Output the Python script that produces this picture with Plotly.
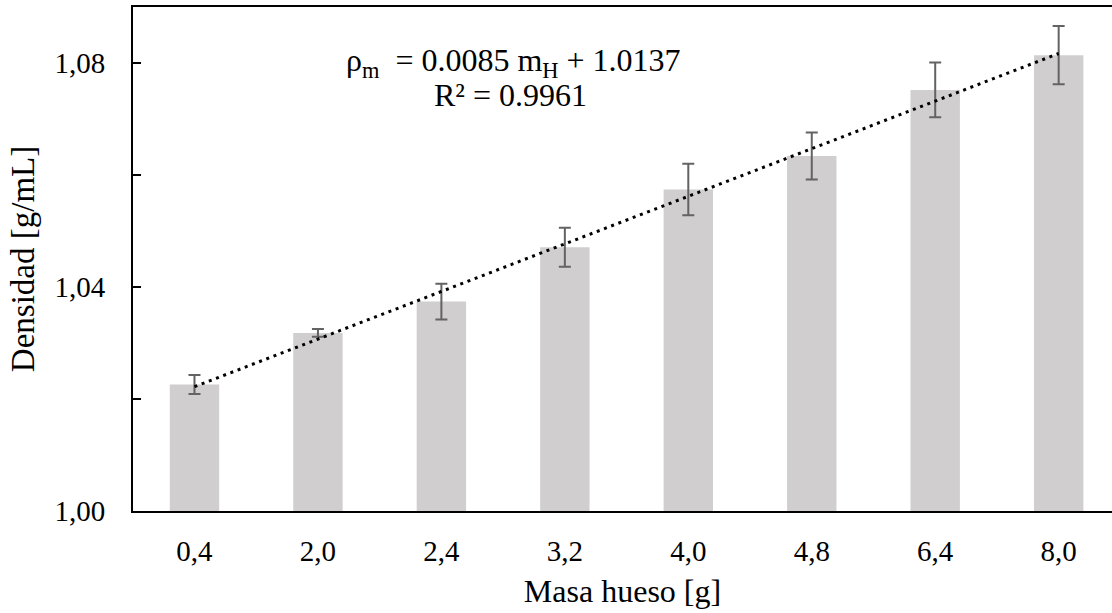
import plotly.graph_objects as go

# Bone mass categories and measured density
masa_labels = ["0,4", "2,0", "2,4", "3,2", "4,0", "4,8", "6,4", "8,0"]
densidad = [1.0226, 1.0318, 1.0374, 1.0471, 1.0574, 1.0634, 1.0752, 1.0814]
desviacion = [0.0017, 0.0007, 0.0032, 0.0035, 0.0046, 0.0042, 0.0049, 0.0052]

# Linear fit over the category index (1..n)
pendiente = 0.0085
intercepto = 1.0137
r2 = 0.9961

y_tickvals = [1.00, 1.04, 1.08]
y_ticktext = ["1,00", "1,04", "1,08"]

FONT = "'Liberation Serif', 'Times New Roman', serif"

idx = list(range(1, len(masa_labels) + 1))
tendencia = [pendiente * i + intercepto for i in idx]

fig = go.Figure()

fig.add_trace(go.Bar(
    x=idx,
    y=densidad,
    width=0.4,
    marker=dict(color="#D0CECE", line=dict(width=0)),
    error_y=dict(
        type="data",
        array=desviacion,
        symmetric=True,
        color="#636363",
        thickness=2,
        width=6,
    ),
    showlegend=False,
))

fig.add_trace(go.Scatter(
    x=[idx[0], idx[-1]],
    y=[tendencia[0], tendencia[-1]],
    mode="lines",
    line=dict(color="black", width=3, dash="3px,4.7px"),
    showlegend=False,
))

# Trend-line equation and R², one annotation per line
fig.add_annotation(
    x=3.58, y=1.0801, xref="x", yref="y",
    text=f"ρ<sub>m</sub>  = {pendiente:.4f} m<sub>H</sub> + {intercepto:.4f}",
    showarrow=False,
    font=dict(family=FONT, size=32, color="black"),
)
fig.add_annotation(
    x=3.56, y=1.0743, xref="x", yref="y",
    text=f"R² = {r2:.4f}",
    showarrow=False,
    font=dict(family=FONT, size=32, color="black"),
)

fig.update_layout(
    width=1112,
    height=613,
    margin=dict(l=133, r=0, t=7, b=102),
    plot_bgcolor="white",
    paper_bgcolor="white",
    font=dict(family=FONT, color="black"),
    bargap=0.6,
    xaxis=dict(
        range=[0.502, 8.432],
        tickvals=idx,
        ticktext=masa_labels,
        ticks="",
        showgrid=False,
        zeroline=False,
        showline=True,
        linecolor="black",
        linewidth=2,
        mirror=True,
        tickfont=dict(family=FONT, size=29, color="black"),
        ticklabelstandoff=13,
        title=dict(text="Masa hueso [g]",
                   font=dict(family=FONT, size=32, color="black"),
                   standoff=14),
    ),
    yaxis=dict(
        range=[1.0, 1.09],
        tickvals=y_tickvals,
        ticktext=y_ticktext,
        ticks="inside",
        ticklen=8,
        tickwidth=2,
        tickcolor="black",
        minor=dict(tickvals=[1.02, 1.06], ticks="inside", ticklen=8,
                   tickwidth=2, tickcolor="black", showgrid=False),
        showgrid=False,
        zeroline=False,
        showline=True,
        linecolor="black",
        linewidth=2,
        tickfont=dict(family=FONT, size=29, color="black"),
        ticklabelstandoff=20,
        title=dict(text="Densidad [g/mL]",
                   font=dict(family=FONT, size=33, color="black"),
                   standoff=10),
    ),
)

fig.write_html("out.html")
